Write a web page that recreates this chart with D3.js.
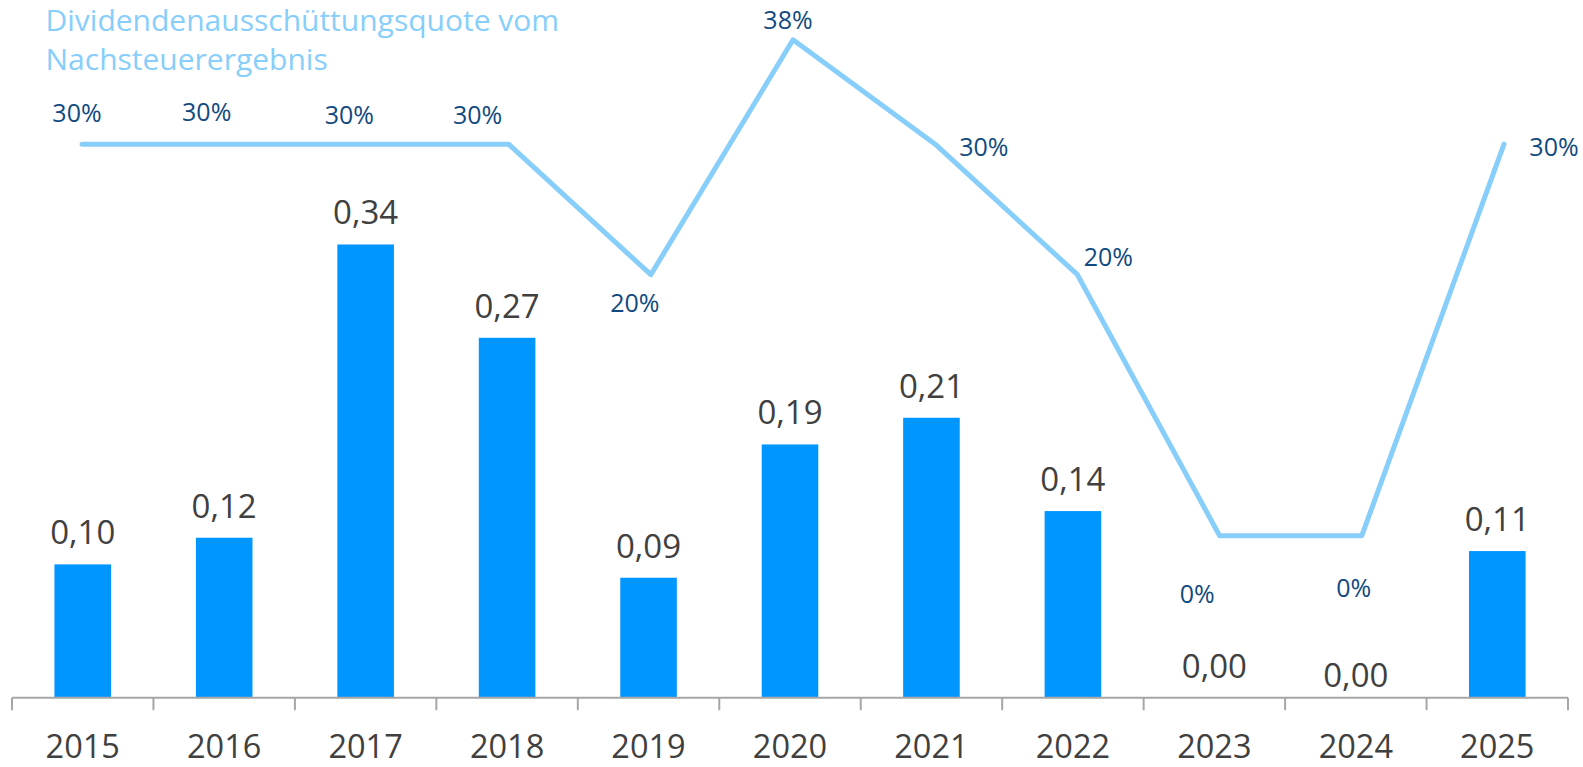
<!DOCTYPE html>
<html>
<head>
<meta charset="utf-8">
<script src="https://cdn.jsdelivr.net/npm/d3@7"></script>
<style>
  html, body { margin: 0; padding: 0; background: #ffffff; }
  svg { display: block; font-family: "Open Sans", "Noto Sans", sans-serif; }
</style>
</head>
<body>
<svg id="chart" width="1583" height="767"></svg>
<script>
// ---- data ----
const years = ["2015", "2016", "2017", "2018", "2019", "2020", "2021", "2022", "2023", "2024", "2025"];
const dividends = [0.10, 0.12, 0.34, 0.27, 0.09, 0.19, 0.21, 0.14, 0.00, 0.00, 0.11];
const payoutRatio = [30, 30, 30, 30, 20, 38, 30, 20, 0, 0, 30];
const titleLines = ["Dividendenausschüttungsquote vom", "Nachsteuerergebnis"];

// ---- label placement (offsets from the data point) ----
const ratioLabelDx = [-5, -17.5, -17, -31, -16, -5, 48.6, 31, -22.4, -8, 50];
const ratioLabelDy = [-22.6, -23.6, -20, -20, 37, -10.7, 11.7, -9.2, 67.6, 61.6, 11.7];
const dividendLabelDy = [0, 0, 0, 0, 0, 0, 0, 0, 0, 9, 0];

// ---- styles ----
const barColor = "#0096FF";
const lineColor = "#87CEFA";
const valueColor = "#404040";
const ratioColor = "#114A80";
const axisColor = "#A6A6A6";

const svg = d3.select("#chart");

const axisY = 697.7;
const x = d3.scaleBand().domain(years).range([12, 1568]).paddingInner(0.6).paddingOuter(0.3);
const y = d3.scaleLinear().domain([0, 0.5]).range([axisY, axisY - 0.5 * 1333]);
const xLine = d3.scalePoint().domain(years).range([82, 1504]);
const yLine = d3.scaleLinear().domain([0, 40]).range([535.7, 535.7 - 40 * 13.05]);

const locale = d3.formatLocale({ decimal: ",", thousands: ".", grouping: [3], currency: ["", " €"] });
const fmtDiv = locale.format(".2f");

// bars
svg.append("g").selectAll("rect")
  .data(years)
  .join("rect")
  .attr("x", d => x(d))
  .attr("width", x.bandwidth())
  .attr("y", (d, i) => y(dividends[i]))
  .attr("height", (d, i) => y(0) - y(dividends[i]))
  .attr("fill", barColor);

// axis line and boundary ticks
const step = x.step();
const [r0, r1] = x.range();
const tickPositions = d3.range(years.length + 1).map(k => r0 + k * step);
const axisG = svg.append("g");
axisG.append("line")
  .attr("x1", r0).attr("x2", r1)
  .attr("y1", axisY).attr("y2", axisY)
  .attr("stroke", axisColor).attr("stroke-width", 2);
axisG.selectAll("line.tick")
  .data(tickPositions)
  .join("line")
  .attr("class", "tick")
  .attr("x1", d => d).attr("x2", d => d)
  .attr("y1", axisY).attr("y2", axisY + 12.5)
  .attr("stroke", axisColor).attr("stroke-width", 2);

// year labels
svg.append("g").selectAll("text")
  .data(years)
  .join("text")
  .attr("x", d => x(d) + x.bandwidth() / 2)
  .attr("y", 758)
  .attr("text-anchor", "middle")
  .attr("font-size", 32.5)
  .attr("fill", valueColor)
  .text(d => d);

// bar value labels
svg.append("g").selectAll("text")
  .data(years)
  .join("text")
  .attr("x", d => x(d) + x.bandwidth() / 2)
  .attr("y", (d, i) => y(dividends[i]) - 20 + dividendLabelDy[i])
  .attr("text-anchor", "middle")
  .attr("font-size", 33)
  .attr("fill", valueColor)
  .text((d, i) => fmtDiv(dividends[i]));

// payout ratio line
const line = d3.line()
  .x((d, i) => xLine(years[i]))
  .y(d => yLine(d));
svg.append("path")
  .datum(payoutRatio)
  .attr("d", line)
  .attr("fill", "none")
  .attr("stroke", lineColor)
  .attr("stroke-width", 5)
  .attr("stroke-linejoin", "round")
  .attr("stroke-linecap", "round");

// payout ratio labels
svg.append("g").selectAll("text")
  .data(years)
  .join("text")
  .attr("x", (d, i) => xLine(d) + ratioLabelDx[i])
  .attr("y", (d, i) => yLine(payoutRatio[i]) + ratioLabelDy[i])
  .attr("text-anchor", "middle")
  .attr("font-size", 25)
  .attr("fill", ratioColor)
  .text((d, i) => payoutRatio[i] + "%");

// title
const title = svg.append("text")
  .attr("font-size", 30)
  .attr("fill", lineColor);
title.selectAll("tspan")
  .data(titleLines)
  .join("tspan")
  .attr("x", 45.5)
  .attr("y", (d, i) => 31 + i * 38.5)
  .text(d => d);
</script>
</body>
</html>
